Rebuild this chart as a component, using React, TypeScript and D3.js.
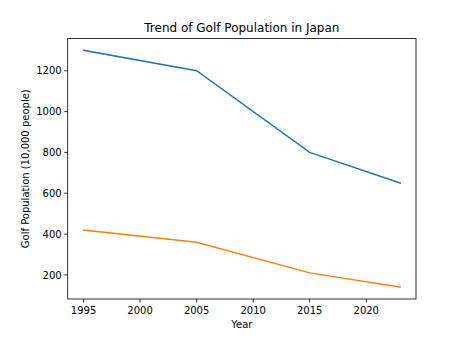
import React from "react";
import * as d3 from "d3";

const years = [1995, 2005, 2015, 2023];
const golfPopulation = [1300, 1200, 800, 650];
const secondSeries = [420, 360, 210, 140];
const xTicks = [1995, 2000, 2005, 2010, 2015, 2020];
const yTicks = [200, 400, 600, 800, 1000, 1200];
const seriesColors = ["#1f77b4", "#ff7f0e"];

const W = 463;
const H = 341;
const left = 67.7;
const right = 416;
const top = 38.5;
const bottom = 299;

export default function App() {
  const x = d3.scaleLinear().domain([1993.6, 2024.4]).range([left, right]);
  const y = d3.scaleLinear().domain([82, 1358]).range([bottom, top]);
  const line = d3
    .line<number>()
    .x((_, i) => x(years[i]))
    .y((d) => y(d));
  const font = "DejaVu Sans, sans-serif";
  return (
    <svg
      width={W}
      height={H}
      style={{ position: "absolute", left: 0, top: 0, background: "#fff" }}
      fontFamily={font}
    >
      <rect x={0} y={0} width={W} height={H} fill="#fff" />
      {[golfPopulation, secondSeries].map((s, i) => (
        <path
          key={i}
          d={line(s) || ""}
          fill="none"
          stroke={seriesColors[i]}
          strokeWidth={1.5}
          strokeLinecap="square"
        />
      ))}
      <rect
        x={left}
        y={top}
        width={right - left}
        height={bottom - top}
        fill="none"
        stroke="#000"
        strokeWidth={0.8}
      />
      {xTicks.map((t) => (
        <g key={t}>
          <line x1={x(t)} x2={x(t)} y1={bottom} y2={bottom + 3.5} stroke="#000" strokeWidth={0.8} />
          <text x={x(t)} y={314} fontSize={10} textAnchor="middle" fill="#000">
            {t}
          </text>
        </g>
      ))}
      {yTicks.map((t) => (
        <g key={t}>
          <line x1={left - 3.5} x2={left} y1={y(t)} y2={y(t)} stroke="#000" strokeWidth={0.8} />
          <text x={left - 6} y={y(t) + 3.6} fontSize={10} textAnchor="end" fill="#000">
            {t}
          </text>
        </g>
      ))}
      <text x={(left + right) / 2} y={327.5} fontSize={10} textAnchor="middle" fill="#000">
        Year
      </text>
      <text
        transform={`translate(28.5, ${(top + bottom) / 2}) rotate(-90)`}
        fontSize={10}
        textAnchor="middle"
        fill="#000"
      >
        Golf Population (10,000 people)
      </text>
      <text x={(left + right) / 2} y={32} fontSize={12} textAnchor="middle" fill="#000">
        Trend of Golf Population in Japan
      </text>
    </svg>
  );
}
